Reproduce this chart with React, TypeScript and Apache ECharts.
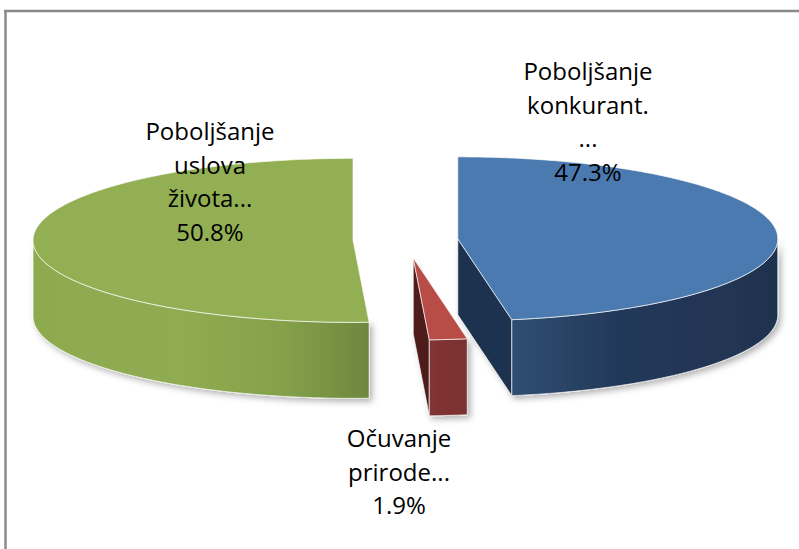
import React, { useEffect, useRef } from "react";
import * as echarts from "echarts";

// ---- data ----
const categories = [
  "Poboljšanje\nkonkurant.\n...",
  "Očuvanje\nprirode...",
  "Poboljšanje\nuslova\nživota...",
];
const values = [47.3, 1.9, 50.8];

// ---- layout / style ----
const PIE = { cx: 405.5, cy: 240, rx: 320, ry: 82, depth: 76 };
const EXPLODE = [0.164, 0.22, 0.164];
const LABEL_POS = [
  [588, 121],
  [399, 471],
  [210, 181],
];
const COLORS = [
  { top: "#4A7AB0", inner: "#1F3350", side: [["#2F4E72", 0], ["#23395A", 0.4], ["#1F324F", 1]] },
  { top: "#B84D48", inner: "#4F1F1F", side: [["#823434", 0], ["#7A3131", 1]] },
  { top: "#93AF53", inner: "#6E8A3F", side: [["#8DAA50", 0], ["#8FAC52", 0.45], ["#84A04A", 0.75], ["#6D883E", 1]] },
];

const D2R = Math.PI / 180;

export default function App() {
  const ref = useRef<HTMLDivElement>(null);
  useEffect(() => {
    if (!ref.current) return;
    const chart = echarts.init(ref.current, null, { renderer: "svg" });
    const total = values.reduce((a, b) => a + b, 0);

    const option: any = {
      animation: false,
      backgroundColor: "#ffffff",
      graphic: [
        { type: "line", shape: { x1: 4, y1: 11, x2: 799, y2: 11 }, style: { stroke: "#8A8A8A", lineWidth: 2.5 } },
        { type: "line", shape: { x1: 5.5, y1: 10, x2: 5.5, y2: 549 }, style: { stroke: "#8A8A8A", lineWidth: 2.5 } },
      ],
      series: [
        {
          type: "custom",
          coordinateSystem: "none",
          data: values.map((v, i) => ({ value: v, name: categories[i] })),
          renderItem: (params: any, api: any) => {
            const i = params.dataIndex;
            let start = 0;
            for (let k = 0; k < i; k++) start += values[k];
            const v = api.value(0);
            const a0 = (start / total) * 360;
            const a1 = ((start + v) / total) * 360;
            const mid = ((a0 + a1) / 2) * D2R;
            const e = EXPLODE[i];
            const cx = PIE.cx + e * PIE.rx * Math.sin(mid);
            const cy = PIE.cy - e * PIE.ry * Math.cos(mid);
            const pt = (deg: number, z: number) => [
              cx + PIE.rx * Math.sin(deg * D2R),
              cy - PIE.ry * Math.cos(deg * D2R) + z,
            ];
            const arc = (from: number, to: number, z: number) => {
              const n = Math.max(2, Math.ceil(Math.abs(to - from)));
              const pts: number[][] = [];
              for (let s = 0; s <= n; s++) pts.push(pt(from + ((to - from) * s) / n, z));
              return pts;
            };
            const c = COLORS[i];
            const edge = { stroke: "rgba(255,255,255,0.65)", lineWidth: 1 };
            const shadow = { shadowBlur: 6, shadowOffsetX: 3, shadowOffsetY: 3, shadowColor: "rgba(0,0,0,0.3)" };
            const children: any[] = [];
            const D = PIE.depth;
            // inner faces
            const endN = (a1 + 90) * D2R;
            if (Math.cos(endN) < -0.001) {
              children.push({
                type: "polygon",
                shape: { points: [[cx, cy], pt(a1, 0), pt(a1, D), [cx, cy + D]] },
                style: { fill: c.inner, ...edge, ...shadow },
              });
            }
            const startN = (a0 - 90) * D2R;
            if (Math.cos(startN) < -0.001) {
              children.push({
                type: "polygon",
                shape: { points: [[cx, cy], pt(a0, 0), pt(a0, D), [cx, cy + D]] },
                style: { fill: c.inner, ...edge, ...shadow },
              });
            }
            // outer side
            const s0 = Math.max(a0, 90);
            const s1 = Math.min(a1, 270);
            if (s1 > s0) {
              const top = arc(s0, s1, 0);
              const bot = arc(s0, s1, D).reverse();
              children.push({
                type: "polygon",
                shape: { points: top.concat(bot) },
                style: {
                  fill: {
                    type: "linear",
                    x: s0 < 180 ? 0 : 1,
                    y: 0,
                    x2: s0 < 180 ? 1 : 0,
                    y2: 0,
                    colorStops: c.side.map(([col, off]) => ({ offset: off, color: col })),
                  },
                  ...edge,
                  ...shadow,
                },
              });
            }
            // top face
            children.push({
              type: "polygon",
              shape: { points: [[cx, cy]].concat(arc(a0, a1, 0)) },
              style: { fill: c.top, ...edge },
            });
            // label
            const lp = LABEL_POS[i];
            children.push({
              type: "text",
              z2: 100,
              style: {
                x: lp[0],
                y: lp[1],
                text: categories[i] + "\n" + v.toFixed(1) + "%",
                fill: "#000000",
                fontSize: 24,
                fontFamily: "Open Sans",
                align: "center",
                verticalAlign: "middle",
                lineHeight: 33.5,
              },
            });
            return { type: "group", children };
          },
        },
      ],
    };
    chart.setOption(option);
    return () => chart.dispose();
  }, []);
  return <div ref={ref} style={{ position: "absolute", left: 0, top: 0, width: 799, height: 549 }} />;
}
